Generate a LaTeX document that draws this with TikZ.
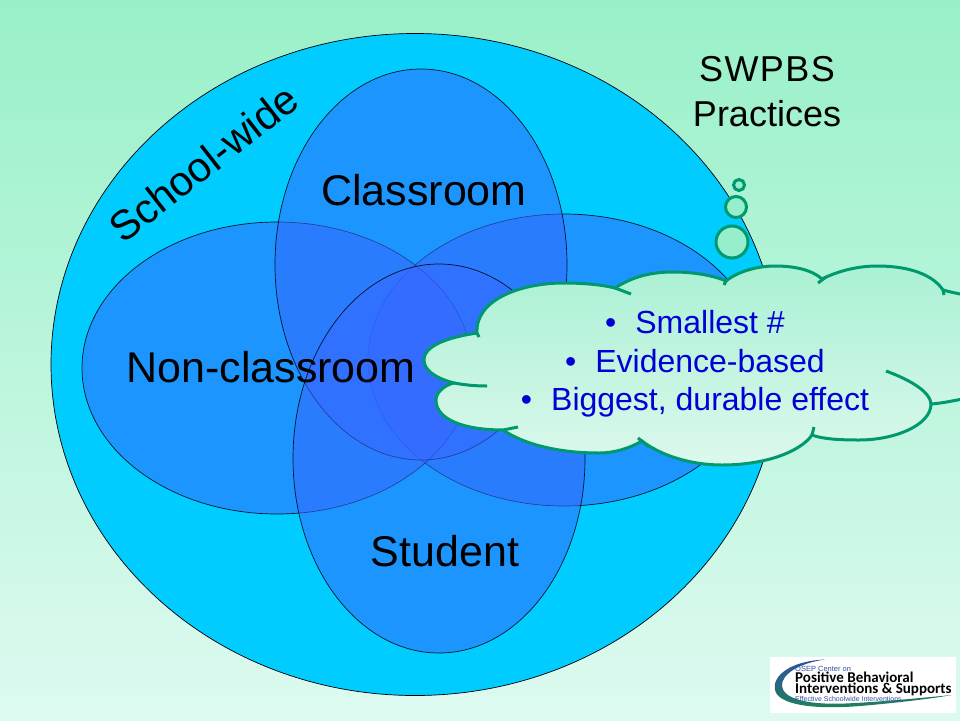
\documentclass[tikz,border=0pt]{standalone}
\usepackage{fontspec}
\setmainfont[Ligatures={NoCommon}]{Liberation Sans}
\newfontfamily\logofont{Carlito}
\newfontfamily\spacedfont[LetterSpace=4]{Liberation Sans}
\usetikzlibrary{shapes.geometric}
\definecolor{bgtop}{RGB}{152,240,200}
\definecolor{bgbot}{RGB}{222,250,240}
\definecolor{bigc}{RGB}{0,204,255}
\definecolor{ovalc}{RGB}{54,105,255}
\definecolor{cloudline}{RGB}{0,153,110}
\definecolor{cloudtop}{RGB}{170,241,212}
\definecolor{cloudbot}{RGB}{220,248,236}
\definecolor{bubblefill}{RGB}{150,238,205}
\definecolor{txtblue}{RGB}{0,0,214}
\definecolor{logoblue}{RGB}{50,80,160}
\definecolor{logogreen}{RGB}{30,130,90}
\tikzset{
  oval/.style={draw=black,line width=0.7pt,fill=ovalc,fill opacity=.55,draw opacity=.85},
  big/.style={font=\fontsize{43}{50}\selectfont,anchor=base,text=black},
  mid/.style={font=\fontsize{36}{42}\selectfont,anchor=base,text=black},
  cloudedge/.style={draw=cloudline,line width=3pt},
  tail/.style={cloudline,line width=3pt},
  bubble/.style={draw=cloudline,line width=3pt,fill=bubblefill},
}
\begin{document}
\begin{tikzpicture}[x=1pt,y=-1pt]
\useasboundingbox (0,0) rectangle (960,720);
\shade[top color=bgtop,bottom color=bgbot] (0,0) rectangle (960,720);
\draw[fill=bigc,draw=black,line width=0.7pt] (415,364.5) ellipse [x radius=364pt,y radius=331pt];
\draw[oval] (564,360) ellipse [x radius=196pt,y radius=146pt];
\draw[oval] (277,368) ellipse [x radius=195pt,y radius=146pt];
\draw[oval] (421,264.5) ellipse [x radius=146pt,y radius=195.5pt];
\draw[oval] (439,458.5) ellipse [x radius=146pt,y radius=194.5pt];
\node[big] (classroom) at (424,205) {Classroom};
\node[big] (nonclass) at (271,382) {Non-classroom};
\node[big] (student) at (445,566) {Student};
\node[big,font=\fontsize{41.5}{50}\selectfont,rotate=38] (school) at (212.5,175) {School-wide};
\node[mid] (swpbs) at (767,81) {\spacedfont SWPBS};
\node[mid] (practices) at (767,126) {Practices};
\draw[bubble] (732,242) circle (16pt);
\draw[bubble] (736,207) circle (10.5pt);
\draw[bubble] (739,185) circle (5.5pt);
\begin{scope}
\clip (0,0) rectangle (960,720);
\path[cloudedge,top color=cloudtop,bottom color=cloudbot]
  (477,333) .. controls (475,300) and (520,283) .. (564,283)
  .. controls (585,283) and (603,285) .. (615,288)
  .. controls (635,275) and (655,272) .. (673,272)
  .. controls (695,272) and (715,276) .. (726,281)
  .. controls (740,270) and (760,266) .. (775,266)
  .. controls (795,266) and (812,270) .. (822,279)
  .. controls (840,270) and (860,266) .. (877,266)
  .. controls (910,266) and (933,275) .. (943,290)
  .. controls (950,292) and (955,293) .. (975,297)
  -- (975,397)
  .. controls (955,400) and (945,403) .. (931,404)
  .. controls (931,425) and (895,440) .. (859,440)
  .. controls (840,440) and (822,439) .. (812,435)
  .. controls (800,452) and (765,465) .. (722,465)
  .. controls (690,465) and (660,455) .. (642,441)
  .. controls (630,448) and (615,453) .. (599,453)
  .. controls (560,453) and (525,445) .. (503,430)
  .. controls (465,430) and (436,420) .. (436,400)
  .. controls (436,392) and (445,385) .. (454,383)
  .. controls (435,378) and (424,370) .. (424,360)
  .. controls (424,345) and (450,337) .. (477,333)
  -- cycle;
\draw[tail] (615,288) -- (631,294);
\draw[tail] (477,333) -- (479,337);
\draw[tail] (726,281) -- (724,285);
\draw[tail] (826,277) -- (818,283);
\draw[tail] (943,290) -- (944,295);
\draw[tail] (931,404) .. controls (930,390) and (905,378) .. (886,371);
\draw[tail] (812,435) -- (814,427);
\draw[tail] (638,438) -- (649,447);
\draw[tail] (503,430) -- (518,427);
\draw[tail] (454,383) .. controls (465,385) and (475,386) .. (487,386);
\end{scope}
\node[align=center,text=txtblue,font=\fontsize{32}{38.5}\selectfont] (list) at (695,364)
  {•\hspace{19pt}Smallest \#\\ •\hspace{19pt}Evidence-based\\ •\hspace{19pt}Biggest, durable effect};
% logo
\fill[white] (770,657) rectangle (956,713);
\shade[top color=logoblue,bottom color=logogreen] (825,659.5) .. controls (790,661) and (772,676) .. (775,690)
   .. controls (778,704) and (810,710) .. (860,706)
   .. controls (890,703.5) and (930,699) .. (952,695)
   .. controls (920,698) and (880,702) .. (845,703.5)
   .. controls (805,705) and (783,698) .. (782,686)
   .. controls (781,674) and (800,663) .. (825,659.5) -- cycle;
\node[anchor=base west,inner sep=0pt,text=logoblue,font=\fontsize{7.5}{8}\selectfont] (l1) at (795,671) {OSEP Center on};
\node[anchor=base west,inner sep=0pt,text=black,font=\logofont\bfseries\fontsize{15}{15}\selectfont] (l2) at (795,682) {Positive Behavioral};
\node[anchor=base west,inner sep=0pt,text=black,font=\logofont\bfseries\fontsize{15}{15}\selectfont] (l3) at (795,693) {Interventions \& Supports};
\node[anchor=base west,inner sep=0pt,text=logoblue,font=\fontsize{7}{8}\selectfont] (l4) at (795,701) {Effective Schoolwide Interventions};
\end{tikzpicture}
\end{document}
